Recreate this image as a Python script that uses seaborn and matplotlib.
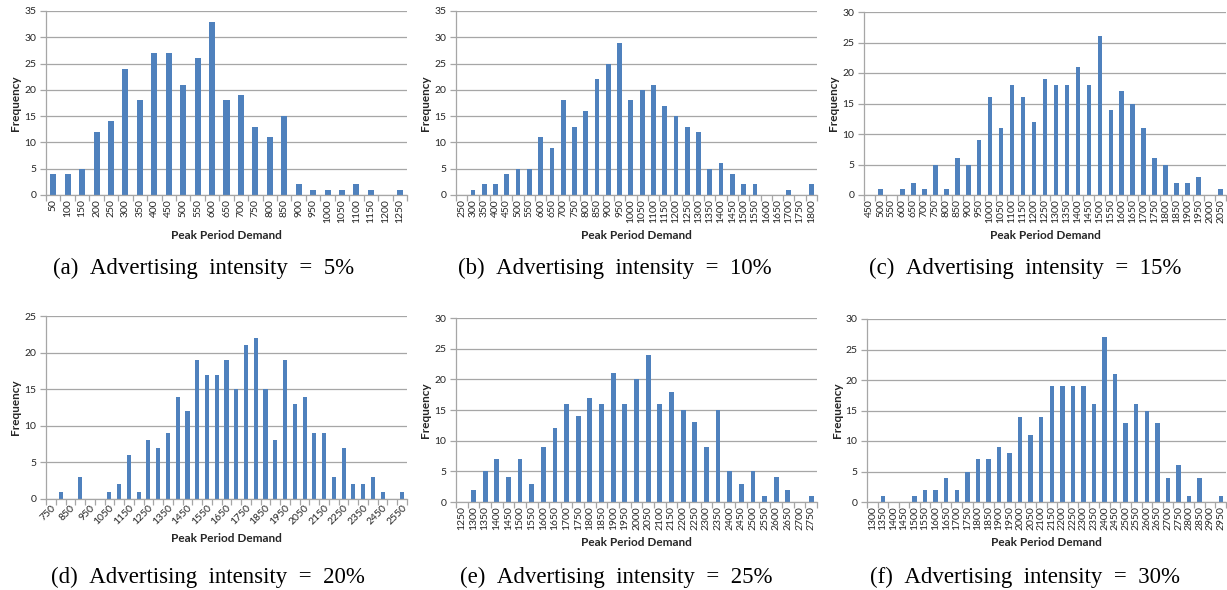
import numpy as np
import matplotlib
matplotlib.use("Agg")
import matplotlib.pyplot as plt
import seaborn as sns

# Peak-period demand histograms for six advertising intensities
bins_a = list(range(50, 1251, 50))
freq_a = [4, 4, 5, 12, 14, 24, 18, 27, 27, 21, 26, 33, 18, 19, 13, 11, 15,
          2, 1, 1, 1, 2, 1, 0, 1]

bins_b = list(range(250, 1801, 50))
freq_b = [0, 1, 2, 2, 4, 5, 5, 11, 9, 18, 13, 16, 22, 25, 29, 18, 20, 21, 17,
          15, 13, 12, 5, 6, 4, 2, 2, 0, 0, 1, 0, 2]

bins_c = list(range(450, 2051, 50))
freq_c = [0, 1, 0, 1, 2, 1, 5, 1, 6, 5, 9, 16, 11, 18, 16, 12, 19, 18, 18, 21,
          18, 26, 14, 17, 15, 11, 6, 5, 2, 2, 3, 0, 1]

bins_d = list(range(750, 2551, 50))
freq_d = [0, 1, 0, 3, 0, 0, 1, 2, 6, 1, 8, 7, 9, 14, 12, 19, 17, 17, 19, 15,
          21, 22, 15, 8, 19, 13, 14, 9, 9, 3, 7, 2, 2, 3, 1, 0, 1]

bins_e = list(range(1250, 2751, 50))
freq_e = [0, 2, 5, 7, 4, 7, 3, 9, 12, 16, 14, 17, 16, 21, 16, 20, 24, 16, 18,
          15, 13, 9, 15, 5, 3, 5, 1, 4, 2, 0, 1]

bins_f = list(range(1300, 2951, 50))
freq_f = [0, 1, 0, 0, 1, 2, 2, 4, 2, 5, 7, 7, 9, 8, 14, 11, 14, 19, 19, 19,
          19, 16, 27, 21, 13, 16, 15, 13, 4, 6, 1, 4, 0, 1]

y_max = [35, 35, 30, 25, 30, 30]
panel_ids = ["(a)", "(b)", "(c)", "(d)", "(e)", "(f)"]
intensities = ["5%", "10%", "15%", "20%", "25%", "30%"]

sns.set_theme(style="white")
plt.rcParams["font.family"] = ["Lato", "DejaVu Sans"]

W, H = 1227, 590
fig = plt.figure(figsize=(W / 100, H / 100), dpi=100)

# axes boxes in pixels: left, right, top, bottom
boxes = [(46, 407, 11, 195), (456, 817, 11, 195), (864, 1226, 12, 195),
         (46, 407, 316, 499), (456, 817, 318, 502), (867, 1226, 319, 502)]
caption_pos = [(204, 268), (615, 268), (1025, 268),
               (208, 577), (616, 577), (1025, 577)]

panels = [(bins_a, freq_a), (bins_b, freq_b), (bins_c, freq_c),
          (bins_d, freq_d), (bins_e, freq_e), (bins_f, freq_f)]

BAR = "#4F81BD"
GRID = "#A6A6A6"
TXT = "#262626"
SP = "\u2002"  # wide inter-word space, as in a justified caption

for i, ((bins, freq), (l, r, t, b)) in enumerate(zip(panels, boxes)):
    ax = fig.add_axes([l / W, 1 - b / H, (r - l) / W, (b - t) / H])
    labels = [str(v) for v in bins]
    sns.barplot(x=labels, y=freq, order=labels, color=BAR, saturation=1,
                width=0.42, ax=ax, linewidth=0)
    n = len(labels)
    ax.set_xlim(-0.5, n - 0.5)
    ax.set_ylim(0, y_max[i])
    ax.set_yticks(np.arange(0, y_max[i] + 1, 5))
    ax.yaxis.grid(True, color=GRID, linewidth=0.9)
    ax.set_axisbelow(True)
    for s in ("top", "right"):
        ax.spines[s].set_visible(False)
    for s in ("left", "bottom"):
        ax.spines[s].set_color(GRID)
        ax.spines[s].set_linewidth(0.9)
    ax.tick_params(axis="y", length=4, width=0.9, color=GRID,
                   labelsize=7.5, labelcolor=TXT, pad=3, left=True)
    # category ticks sit between bars
    ax.set_xticks(np.arange(-0.5, n), minor=True)
    ax.tick_params(axis="x", which="minor", length=4, width=0.9, color=GRID,
                   bottom=True)
    ax.tick_params(axis="x", which="major", length=0, labelsize=7.5,
                   labelcolor=TXT, pad=3)
    if i == 3:
        ax.set_xticks(range(0, n, 2))
        ax.set_xticklabels(labels[::2], rotation=45, ha="right",
                           rotation_mode="anchor")
    else:
        ax.set_xticks(range(n))
        ax.set_xticklabels(labels, rotation=90)
    ax.set_xlabel("Peak Period Demand", fontsize=8.5, fontweight="bold",
                  color=TXT, labelpad=5)
    ax.set_ylabel("Frequency", fontsize=8.5, fontweight="bold", color=TXT,
                  labelpad=2)
    cx, cy = caption_pos[i]
    caption = SP.join([panel_ids[i], "Advertising", "intensity", "=",
                       intensities[i]])
    fig.text(cx / W, 1 - cy / H, caption, ha="center", va="center",
             fontsize=16.5, family="Liberation Serif", color="black")

fig.savefig("out.png", dpi=100, facecolor="white")
